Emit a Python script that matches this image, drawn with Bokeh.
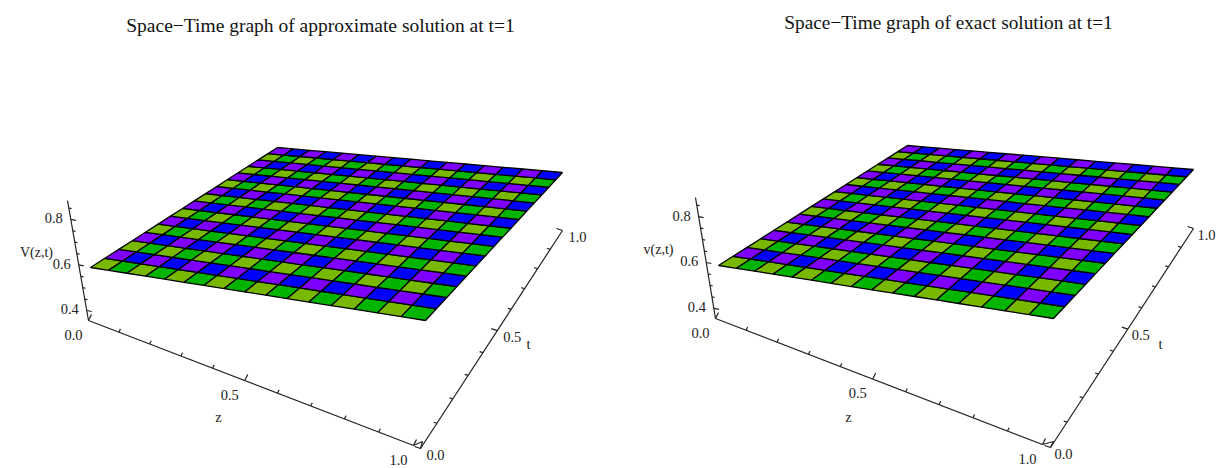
from bokeh.plotting import figure
from bokeh.layouts import row
from bokeh.models import ColumnDataSource
from bokeh.core.properties import value
from bokeh.embed import file_html
from bokeh.resources import INLINE
import numpy as np

# data
z_edges = [i / 16 for i in range(17)]
t_edges = [i / 16 for i in range(17)]
z_ticks = [i / 10 for i in range(11)]
t_ticks = [i / 10 for i in range(11)]
v_ticks = [0.40, 0.45, 0.50, 0.55, 0.60, 0.65, 0.70, 0.75, 0.80, 0.85]
z_labels = ["0.0", "0.5", "1.0"]
t_labels = ["0.0", "0.5", "1.0"]
v_labels = ["0.4", "0.6", "0.8"]
colours = {"olive": "#78b800", "green": "#00b400", "purple": "#8000ff", "blue": "#0000ff"}
titles = ["Space\u2212Time graph of approximate solution at t=1",
          "Space\u2212Time graph of exact solution at t=1"]
v_names = ["V(z,t)", "v(z,t)"]

FONT = value("Liberation Serif")


def homography(corners):
    src = [(0, 0), (1, 0), (1, 1), (0, 1)]
    a, b = [], []
    for (u, w), (x, y) in zip(src, corners):
        a.append([u, w, 1, 0, 0, 0, -u * x, -w * x]); b.append(x)
        a.append([0, 0, 0, u, w, 1, -u * y, -w * y]); b.append(y)
    return np.append(np.linalg.solve(np.array(a, float), np.array(b, float)), 1).reshape(3, 3)


def project(h, u, w):
    q = h @ np.array([u, w, 1.0])
    return q[0] / q[2], q[1] / q[2]


def along(a, b, f, k):
    g = f / (k + (1 - k) * f)
    return a[0] + (b[0] - a[0]) * g, a[1] + (b[1] - a[1]) * g


def panel(x0, width, layout, title, vname):
    p = figure(width=width, height=468, x_range=(x0, x0 + width), y_range=(468, 0),
               output_backend="svg", toolbar_location=None, min_border=0)
    p.axis.visible = False
    p.grid.visible = False
    p.outline_line_color = None
    h = homography(layout["surface"])
    xs, ys, fill = [], [], []
    for j in range(len(t_edges) - 1):
        for i in range(len(z_edges) - 1):
            quad = [project(h, z_edges[i + a], t_edges[j + b]) for a, b in [(0, 0), (1, 0), (1, 1), (0, 1)]]
            xs.append([q[0] for q in quad])
            ys.append([q[1] for q in quad])
            name = (["olive", "green"] if j % 2 == 0 else ["purple", "blue"])[i % 2]
            fill.append(colours[name])
    p.patches(xs="xs", ys="ys", fill_color="fill", line_color="#000000", line_width=1.3,
              source=ColumnDataSource(dict(xs=xs, ys=ys, fill=fill)))

    o, zend, tstart, ttop, vtop = (layout[k] for k in ("origin", "zend", "tstart", "ttop", "vtop"))
    ax = dict(line_color="#222222", line_width=1.2)
    p.line([o[0], zend[0]], [o[1], zend[1]], **ax)
    p.line([tstart[0], ttop[0]], [tstart[1], ttop[1]], **ax)
    p.line([o[0], vtop[0]], [o[1], vtop[1]], **ax)
    c = layout["box"]
    p.line([zend[0], c[0], tstart[0]], [zend[1], c[1], tstart[1]], **ax)

    def tick(pos, d, major):
        s = 1.0 if major else 0.55
        p.line([pos[0], pos[0] + d[0] * s], [pos[1], pos[1] + d[1] * s], **ax)

    def label(pos, d, txt, size="14.5px"):
        p.text([pos[0] + d[0]], [pos[1] + d[1]], text=[txt], text_font=FONT, text_font_size=size,
               text_align="center", text_baseline="middle", text_color="#222222")

    for f in z_ticks:
        pos = along(o, zend, f, 1.08)
        m = round(f * 10) % 5 == 0
        tick(pos, (3, -6), m)
        if m:
            label(pos, (-15, 14), z_labels[round(f * 2)])
    for f in t_ticks:
        pos = along(tstart, ttop, f, 0.85)
        m = round(f * 10) % 5 == 0
        tick(pos, (-6, -2), m)
        if m:
            label(pos, (layout["t_dx"], 6), t_labels[round(f * 2)])
    for v in v_ticks:
        f = (v - 0.356) / 0.527
        pos = along(o, vtop, f, 1.0)
        m = round(v * 100) % 20 == 0
        tick(pos, (5, 1), m)
        if m:
            label(pos, (-17, -1), v_labels[round((v - 0.4) * 5)])

    label(layout["ztitle"], (0, 0), "z")
    label(layout["ttitle"], (0, 0), "t")
    label(layout["vtitle"], (0, 0), vname, "14px")
    p.text([layout["title"][0]], [layout["title"][1]], text=[title], text_font=FONT,
           text_font_size=layout["title_size"], text_align="center", text_baseline="middle",
           text_color="#111111")
    return p


left = dict(surface=[(90, 267), (425, 320), (562, 172), (277, 147)],
            origin=(88, 320), zend=(413, 445), tstart=(420, 448), ttop=(562, 230), vtop=(67, 200),
            box=(422, 441), ztitle=(218, 416), ttitle=(528, 343), vtitle=(36, 252),
            title=(320, 25), title_size="19.5px", t_dx=15)
right = dict(surface=[(718, 265), (1053, 318), (1193, 169), (907, 145)],
             origin=(715, 318), zend=(1042, 444), tstart=(1050, 447), ttop=(1193, 228), vtop=(695, 197),
             box=(1053, 441), ztitle=(848, 416), ttitle=(1160, 343), vtitle=(658, 249),
             title=(948, 22), title_size="19.3px", t_dx=13)

p1 = panel(0, 608, left, titles[0], v_names[0])
p2 = panel(608, 608, right, titles[1], v_names[1])
layout = row(p1, p2, spacing=0)
open("out.html", "w").write(file_html(layout, INLINE))
